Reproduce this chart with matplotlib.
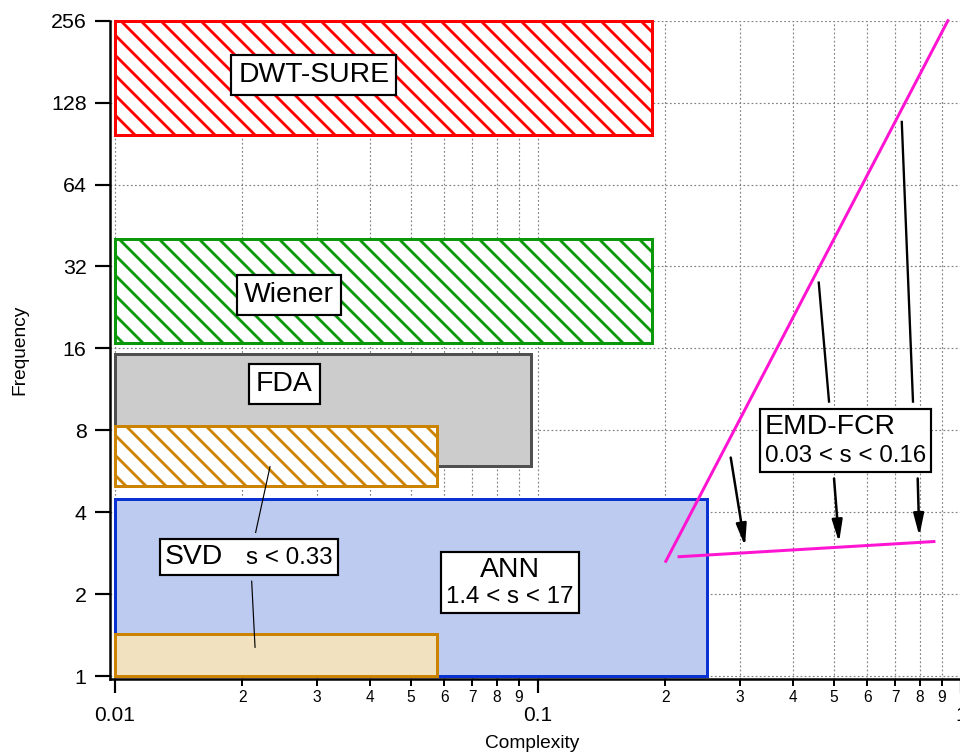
import numpy as np
import matplotlib
matplotlib.use("Agg")
import matplotlib.pyplot as plt
from matplotlib.patches import Rectangle
from matplotlib.ticker import FixedLocator, FuncFormatter, LogLocator, NullLocator
from matplotlib.offsetbox import TextArea, HPacker, VPacker, AnnotationBbox

plt.rcParams["font.family"] = ["Liberation Sans", "DejaVu Sans"]
plt.rcParams["hatch.linewidth"] = 1.7

# operating regions of each method (complexity x frequency), in draw order
box_names = ["ANN", "SVD low", "FDA", "SVD high", "Wiener", "DWT-SURE"]
box_x_lo = [0.01, 0.01, 0.01, 0.01, 0.01, 0.01]
box_x_hi = [0.251, 0.0577, 0.0962, 0.0577, 0.186, 0.186]
box_y_lo = [1.0, 1.0, 5.9, 5.0, 16.8, 97.0]
box_y_hi = [4.49, 1.43, 15.3, 8.3, 40.4, 256.0]
box_face = ["#bccbef", "#f1e1bf", "#cccccc", "white", "white", "white"]
box_edge = ["#0a32d2", "#cc8400", "#505050", "#cc8400", "#0b980b", "#ff0000"]
box_hatch = [None, None, None, "\\\\", "\\\\", "\\\\"]

# EMD-FCR trend lines
emd_steep_x = [0.2005, 0.931]
emd_steep_y = [2.64, 256.0]
emd_flat_x = [0.2155, 0.863]
emd_flat_y = [2.744, 3.12]

# label anchors
label_pos = {
    "DWT-SURE": (0.0295, 162.0),
    "Wiener": (0.0258, 25.2),
    "FDA": (0.0251, 11.8),
    "SVD": (0.0207, 2.74),
    "ANN": (0.0859, 2.21),
    "EMD": (0.532, 7.36),
}

# leader lines: (start, end)
arrow_segs = [((0.2855, 6.35), (0.3086, 3.00)),
              ((0.501, 5.32), (0.5148, 3.10)),
              ((0.790, 5.32), (0.797, 3.27))]
emd_leaders = [((0.461, 27.9), (0.4875, 10.2)),
               ((0.7244, 108.7), (0.770, 10.2))]
svd_leaders = [((0.02325, 5.88), (0.0215, 3.37)),
               ((0.02104, 2.23), (0.02143, 1.275))]

y_ticks = [1, 2, 4, 8, 16, 32, 64, 128, 256]
x_major = [0.01, 0.1, 1.0]

fig = plt.figure(figsize=(8, 754 / 120), dpi=120)
ax = fig.add_axes([110 / 960, 75 / 754, 851 / 960, 658.3 / 754])
ax.set_xscale("log")
ax.set_yscale("log", base=2)
ax.set_xlim(0.00973, 1.0)
ax.set_ylim(0.975, 256)
ax.set_axisbelow(True)

for s in ["top", "right"]:
    ax.spines[s].set_visible(False)
for s in ["left", "bottom"]:
    ax.spines[s].set_linewidth(1.5)

ax.yaxis.set_major_locator(FixedLocator(y_ticks))
ax.yaxis.set_major_formatter(FuncFormatter(lambda v, _: f"{v:.0f}"))
ax.yaxis.set_minor_locator(NullLocator())
ax.xaxis.set_major_locator(FixedLocator(x_major))
ax.xaxis.set_major_formatter(FuncFormatter(lambda v, _: f"{v:g}"))
ax.xaxis.set_minor_locator(LogLocator(base=10, subs=np.arange(2, 10)))
ax.xaxis.set_minor_formatter(
    FuncFormatter(lambda v, _: f"{v / 10 ** np.floor(np.log10(v) + 1e-9):.0f}"))

ax.tick_params(axis="y", which="major", length=9, width=1.3, pad=5, labelsize=12.8)
ax.tick_params(axis="x", which="major", length=8.4, width=1.3, pad=8, labelsize=12.5)
ax.tick_params(axis="x", which="minor", length=4.2, width=1.2, pad=2.5, labelsize=9.3)

grid_kw = dict(color="#808080", lw=0.7, ls=(0, (1.5, 2)))
ax.grid(True, which="both", axis="x", **grid_kw)
ax.grid(True, which="major", axis="y", **grid_kw)

for i in range(len(box_names)):
    ax.add_patch(Rectangle((box_x_lo[i], box_y_lo[i]),
                           box_x_hi[i] - box_x_lo[i], box_y_hi[i] - box_y_lo[i],
                           facecolor=box_face[i], edgecolor=box_edge[i],
                           hatch=box_hatch[i], lw=1.8, clip_on=False, zorder=2))

ax.plot(emd_steep_x, emd_steep_y, color="#ff14d2", lw=1.8, zorder=3, clip_on=False)
ax.plot(emd_flat_x, emd_flat_y, color="#ff14d2", lw=1.8, zorder=3)

for (x0, y0), (x1, y1) in arrow_segs:
    ax.annotate("", xy=(x1, y1), xytext=(x0, y0),
                arrowprops=dict(arrowstyle="-|>,head_length=1.1,head_width=0.26",
                                color="black", lw=1.5, mutation_scale=10,
                                shrinkA=0, shrinkB=0), zorder=4)
for (x0, y0), (x1, y1) in emd_leaders:
    ax.plot([x0, x1], [y0, y1], color="black", lw=1.4, zorder=4)
for (x0, y0), (x1, y1) in svd_leaders:
    ax.plot([x0, x1], [y0, y1], color="black", lw=0.7, zorder=4)

box_kw = dict(boxstyle="square,pad=0.25", fc="white", ec="black", lw=1.3)
for name in ["DWT-SURE", "Wiener", "FDA"]:
    ax.text(*label_pos[name], name, fontsize=17, ha="center", va="center",
            bbox=box_kw, zorder=5)

frame_kw = dict(boxstyle="square,pad=0.3", fc="white", ec="black", lw=1.3)

svd_pack = HPacker(children=[TextArea("SVD", textprops=dict(fontsize=17)),
                             TextArea("s < 0.33", textprops=dict(fontsize=14.5))],
                   align="baseline", pad=0, sep=14)
ax.add_artist(AnnotationBbox(svd_pack, label_pos["SVD"], frameon=True, pad=0.35,
                             bboxprops=frame_kw, zorder=5))

ann_pack = VPacker(children=[TextArea("ANN", textprops=dict(fontsize=17)),
                             TextArea("1.4 < s < 17", textprops=dict(fontsize=14.5))],
                   align="center", pad=0, sep=2)
ax.add_artist(AnnotationBbox(ann_pack, label_pos["ANN"], frameon=True, pad=0.4,
                             bboxprops=frame_kw, zorder=5))

emd_pack = VPacker(children=[TextArea("EMD-FCR", textprops=dict(fontsize=17)),
                             TextArea("0.03 < s < 0.16", textprops=dict(fontsize=14.5))],
                   align="left", pad=0, sep=3)
ax.add_artist(AnnotationBbox(emd_pack, label_pos["EMD"], frameon=True, pad=0.45,
                             bboxprops=frame_kw, zorder=5))

ax.set_xlabel("Complexity", fontsize=11.5)
ax.set_ylabel("Frequency", fontsize=11.5)
ax.xaxis.set_label_coords((532 - 110) / 851, -56 / 658.3)
ax.yaxis.set_label_coords(-82 / 851, 0.5)

fig.savefig("out.png", dpi=120)
